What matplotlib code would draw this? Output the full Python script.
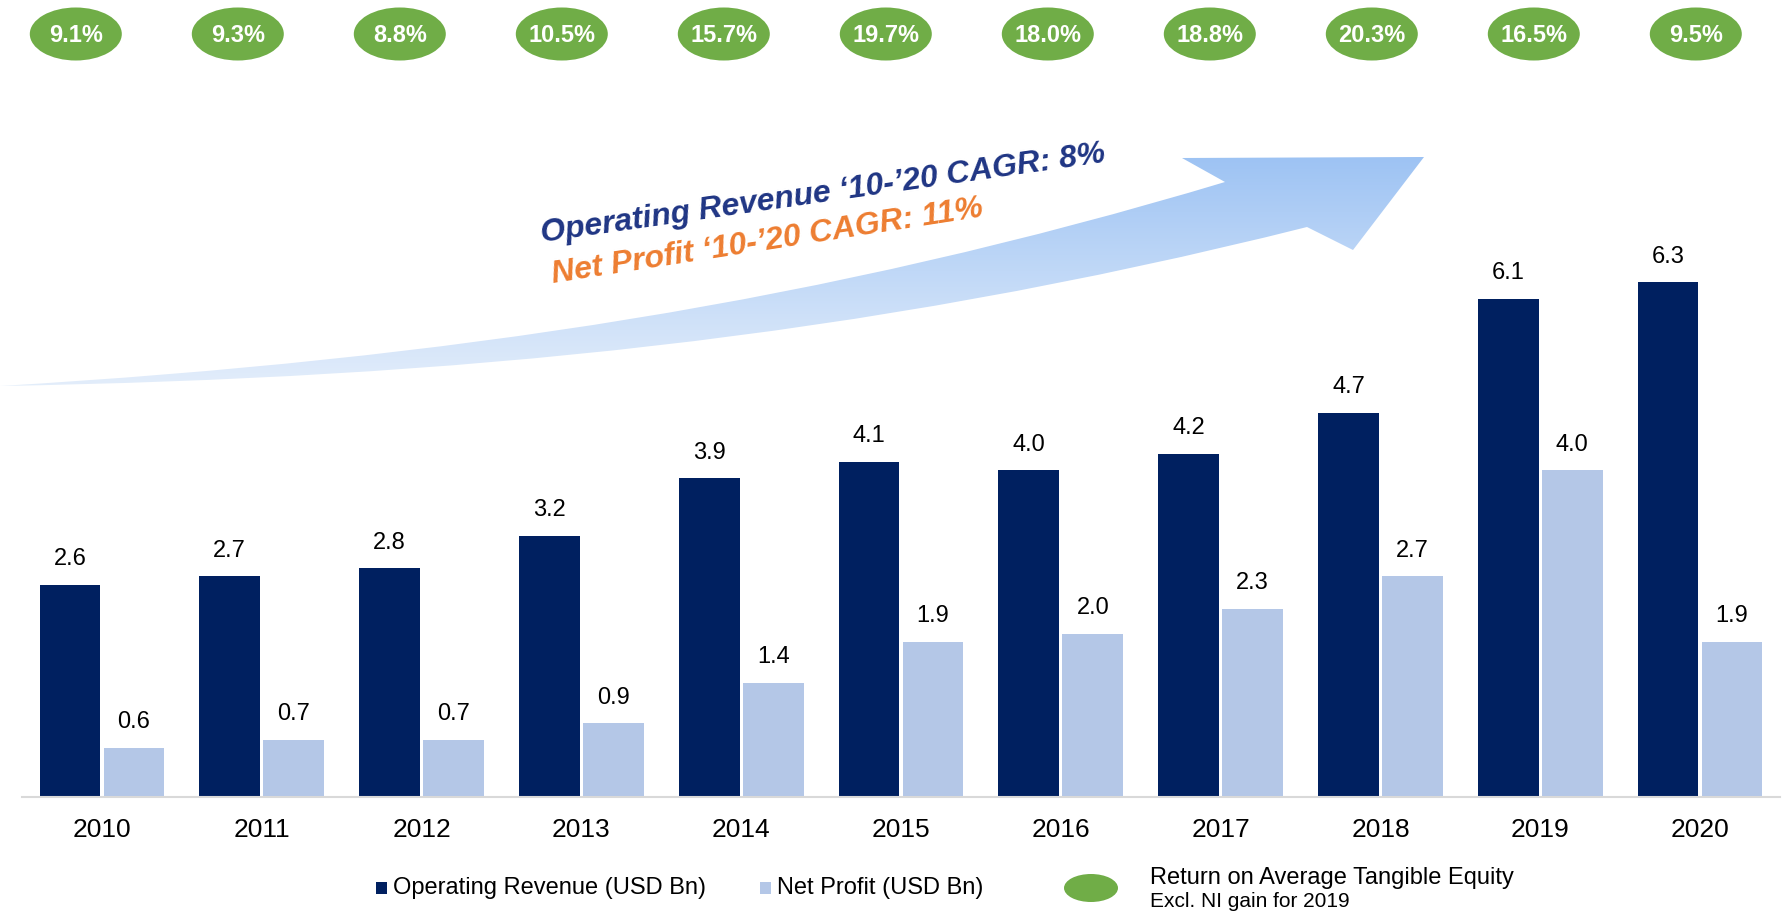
import numpy as np
import matplotlib
matplotlib.use("Agg")
import matplotlib.pyplot as plt
from matplotlib.patches import Ellipse, Rectangle, PathPatch
from matplotlib.path import Path
from matplotlib.colors import LinearSegmentedColormap

# ---------------- data ----------------
years = ["2010", "2011", "2012", "2013", "2014", "2015", "2016", "2017", "2018", "2019", "2020"]
operating_revenue = [2.6, 2.7, 2.8, 3.2, 3.9, 4.1, 4.0, 4.2, 4.7, 6.1, 6.3]
net_profit = [0.6, 0.7, 0.7, 0.9, 1.4, 1.9, 2.0, 2.3, 2.7, 4.0, 1.9]
rote = [9.1, 9.3, 8.8, 10.5, 15.7, 19.7, 18.0, 18.8, 20.3, 16.5, 9.5]

legend_labels = ["Operating Revenue (USD Bn)", "Net Profit (USD Bn)",
                 "Return on Average Tangible Equity", "Excl. NI gain for 2019"]
cagr_rev_text = "Operating Revenue \u201810-\u201920 CAGR: 8%"
cagr_np_text = "Net Profit \u201810-\u201920 CAGR: 11%"

# ---------------- style ----------------
NAVY = "#002060"
LIGHT = "#B4C7E7"
GREEN = "#70AD47"
ORANGE = "#ED7D31"
TXT_NAVY = "#1F3584"
plt.rcParams["font.family"] = ["Liberation Sans", "DejaVu Sans"]

W, H = 1783, 913
fig = plt.figure(figsize=(W / 100, H / 100), dpi=100)

# overlay axes in pixel coordinates (decorations, legend)
ax_px = fig.add_axes([0, 0, 1, 1])
ax_px.set_xlim(0, W)
ax_px.set_ylim(H, 0)
ax_px.axis("off")

# ---------------- gradient arrow ----------------
verts = [(0, 386),
         (450, 359), (825, 302), (1225, 182),
         (1182, 158), (1424, 157), (1353, 250), (1307, 227),
         (857, 340), (450, 378), (0, 386),
         (0, 386)]
codes = [Path.MOVETO,
         Path.CURVE4, Path.CURVE4, Path.CURVE4,
         Path.LINETO, Path.LINETO, Path.LINETO, Path.LINETO,
         Path.CURVE4, Path.CURVE4, Path.CURVE4,
         Path.CLOSEPOLY]
arrow_path = Path(verts, codes)
patch = PathPatch(arrow_path, facecolor="none", edgecolor="none")
ax_px.add_patch(patch)
cmap = LinearSegmentedColormap.from_list("arr", ["#9CC2F3", "#E4EEFB"])
grad = np.linspace(0, 1, 256).reshape(-1, 1)
im = ax_px.imshow(grad, cmap=cmap, extent=(0, 1430, 390, 152), origin="upper",
                  aspect="auto", interpolation="bicubic", zorder=1)
im.set_clip_path(patch)
ax_px.set_xlim(0, W)
ax_px.set_ylim(H, 0)

ax_px.text(542, 242, cagr_rev_text, color=TXT_NAVY, fontsize=23, fontweight="bold",
           fontstyle="italic", rotation=8.1, rotation_mode="anchor",
           ha="left", va="baseline", zorder=3)
ax_px.text(553, 283, cagr_np_text, color=ORANGE, fontsize=23, fontweight="bold",
           fontstyle="italic", rotation=8.8, rotation_mode="anchor",
           ha="left", va="baseline", zorder=3)

# ---------------- main bar axes ----------------
px_per_unit = 81.7
ymax = 8.0
ax = fig.add_axes([22 / W, (H - 797) / H, 1758 / W, ymax * px_per_unit / H])
ax.patch.set_alpha(0)
x = np.arange(len(years))
bw = 0.38
ax.bar(x - 0.2, operating_revenue, width=bw, color=NAVY, zorder=2)
ax.bar(x + 0.2, net_profit, width=bw, color=LIGHT, zorder=2)
for xi, v in zip(x - 0.2, operating_revenue):
    ax.annotate(f"{v:.1f}", (xi, v), xytext=(0, 18.5), textcoords="offset points",
                ha="center", va="center", fontsize=17, color="black")
for xi, v in zip(x + 0.2, net_profit):
    ax.annotate(f"{v:.1f}", (xi, v), xytext=(0, 18.5), textcoords="offset points",
                ha="center", va="center", fontsize=17, color="black")
ax.set_xlim(-0.5, 10.5)
ax.set_ylim(0, ymax)
ax.set_xticks(x)
ax.set_xticklabels(years, fontsize=19)
ax.tick_params(axis="x", length=0, pad=15)
ax.set_yticks([])
for s in ["top", "right", "left"]:
    ax.spines[s].set_visible(False)
ax.spines["bottom"].set_color("#D9D9D9")
ax.spines["bottom"].set_linewidth(1.5)

# ---------------- RoATE ellipses ----------------
ell_x0, ell_step = 75.8, 162.0
ax_e = fig.add_axes([0, 0, 1, 1])
ax_e.patch.set_alpha(0)
ax_e.set_xlim(-ell_x0 / ell_step, (W - ell_x0) / ell_step)
ax_e.set_ylim(H, 0)
ax_e.axis("off")
for i, r in enumerate(rote):
    ax_e.add_patch(Ellipse((i, 34), 92 / ell_step, 53, facecolor=GREEN, edgecolor="none"))
    ax_e.text(i, 35, f"{r:.1f}%", color="white", fontsize=17, fontweight="bold",
              ha="center", va="center")

# ---------------- legend ----------------
ax_px.add_patch(Rectangle((376, 882), 11, 12, facecolor=NAVY, edgecolor="none"))
ax_px.text(393, 894, legend_labels[0], fontsize=17, ha="left", va="baseline")
ax_px.add_patch(Rectangle((760, 882), 11, 12, facecolor=LIGHT, edgecolor="none"))
ax_px.text(777, 894, legend_labels[1], fontsize=17, ha="left", va="baseline")
ax_px.add_patch(Ellipse((1091, 888), 54, 28, facecolor=GREEN, edgecolor="none"))
ax_px.text(1150, 884, legend_labels[2], fontsize=17, ha="left", va="baseline")
ax_px.text(1150, 907, legend_labels[3], fontsize=15, ha="left", va="baseline")

fig.savefig("out.png", dpi=100)
